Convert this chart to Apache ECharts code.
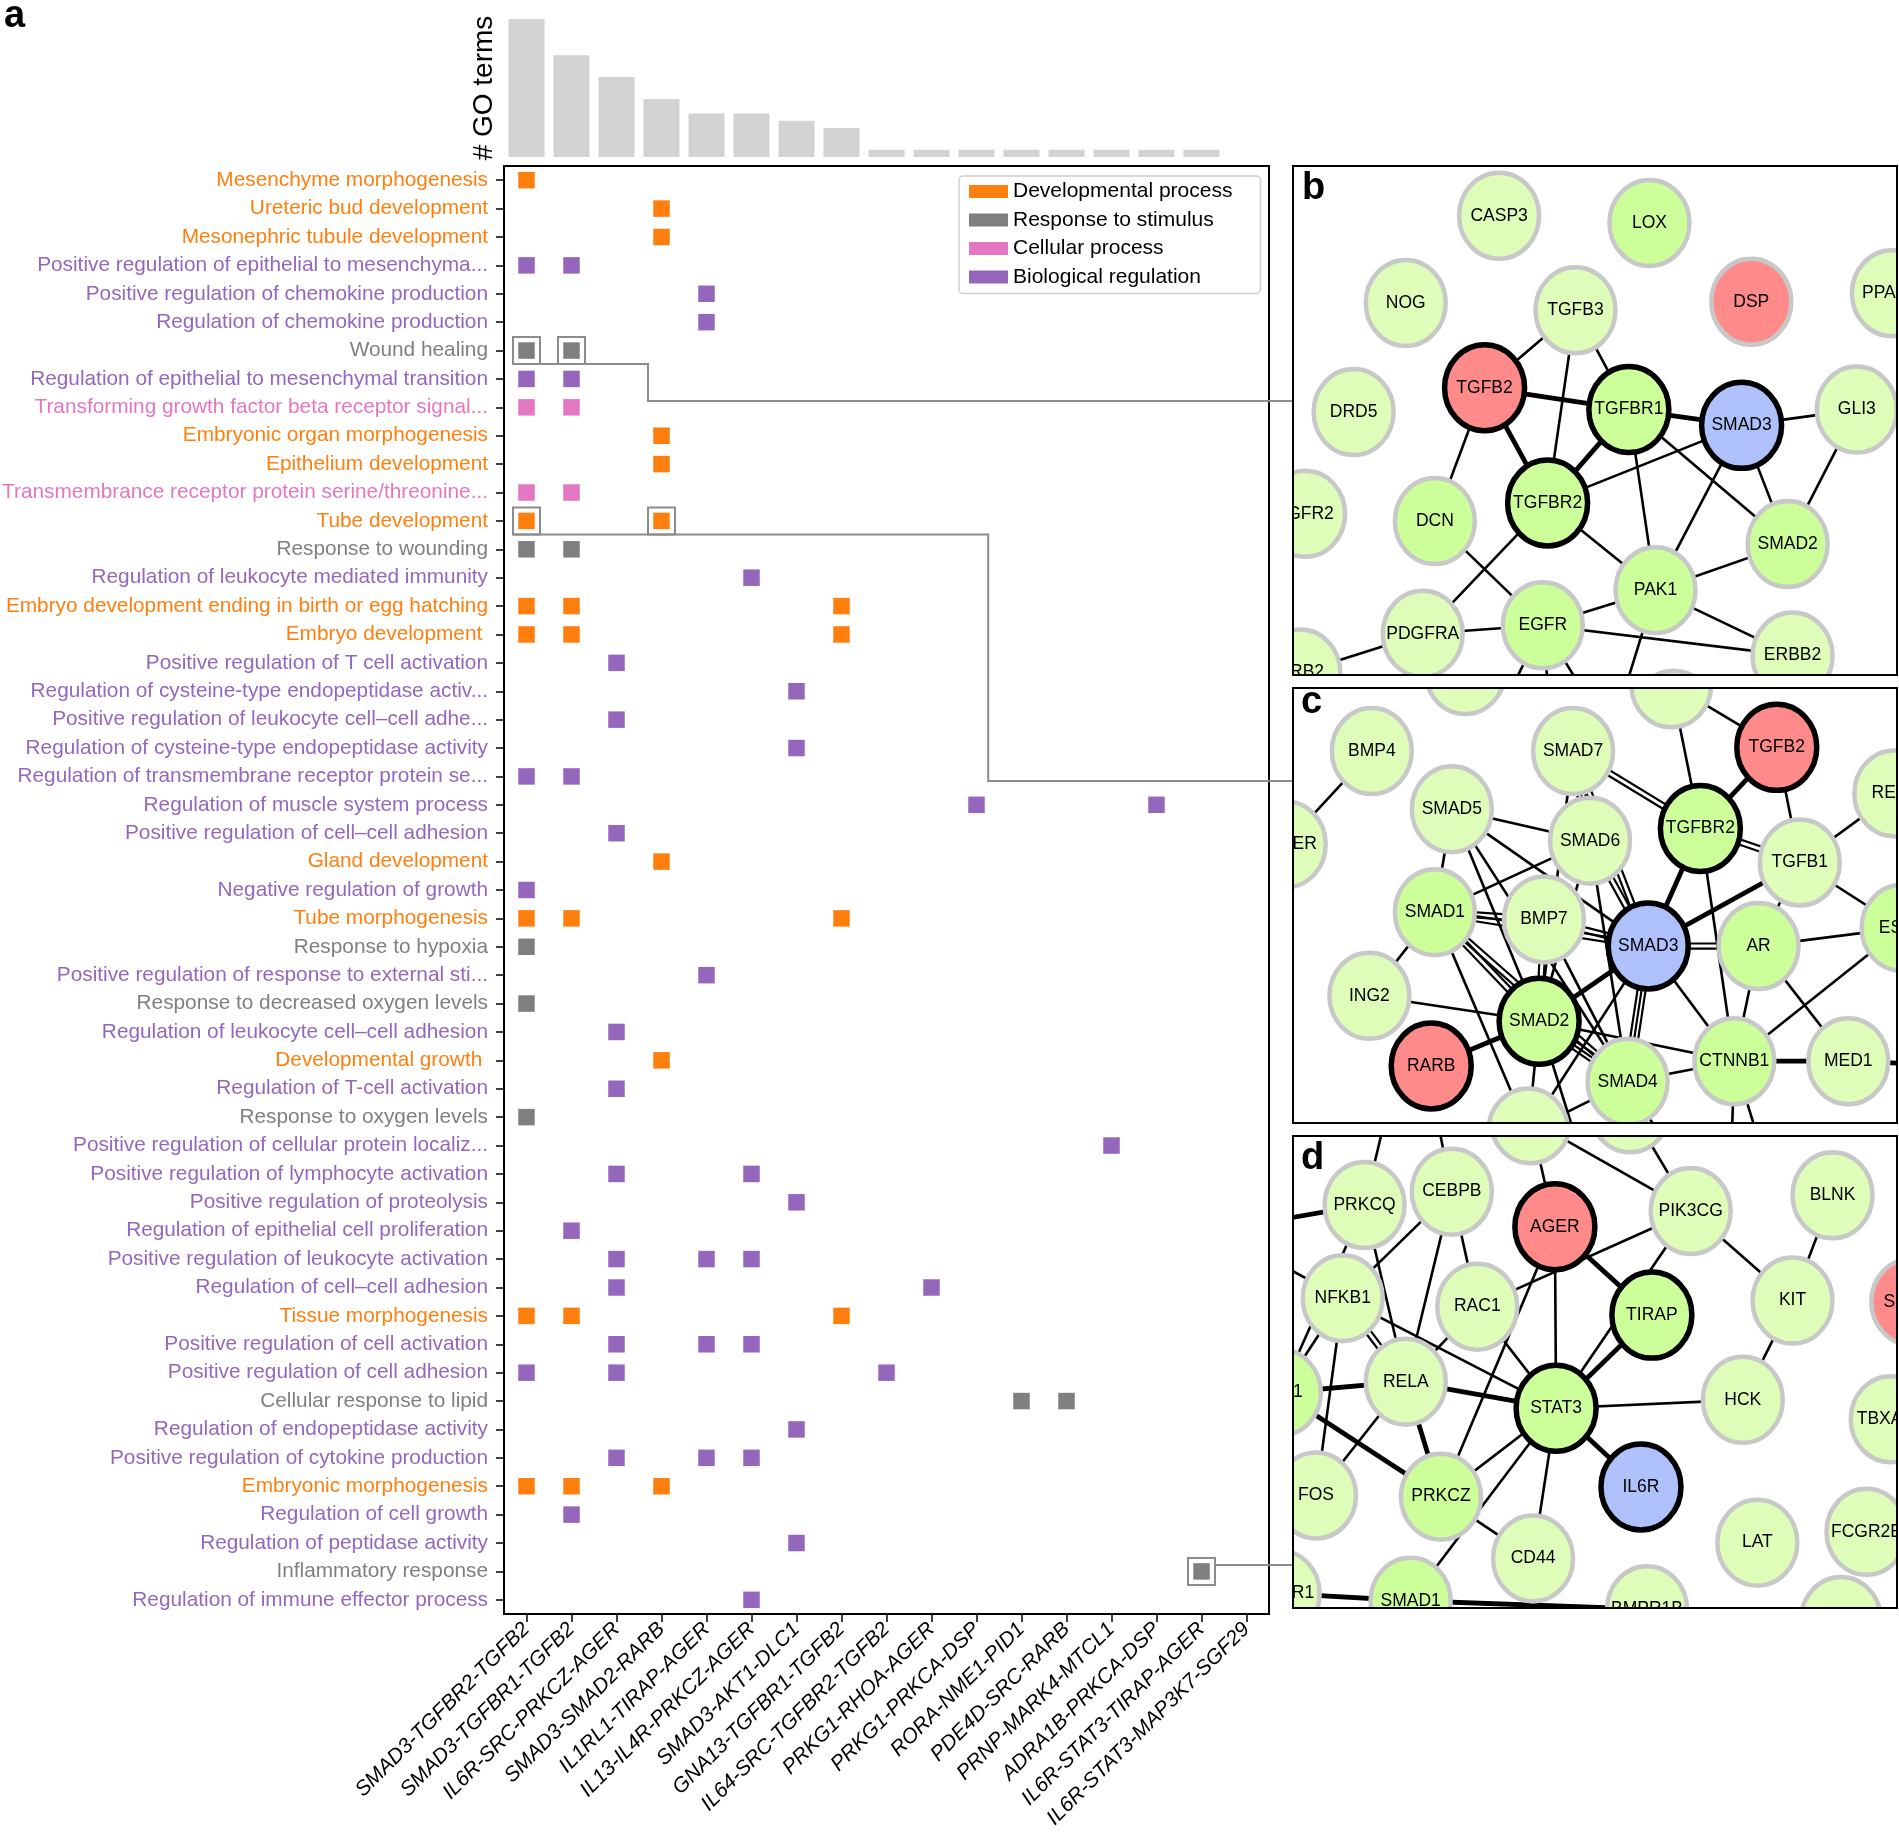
<!DOCTYPE html>
<html>
<head>
<meta charset="utf-8">
<script src="https://cdn.jsdelivr.net/npm/echarts@6/dist/echarts.min.js"></script>
<style>
html,body{margin:0;padding:0;background:#fff;}
#chart{width:1899px;height:1832px;}
</style>
</head>
<body>
<div id="chart"></div>
<script>
// ---------------- DATA ----------------
const combos = ['SMAD3-TGFBR2-TGFB2','SMAD3-TGFBR1-TGFB2','IL6R-SRC-PRKCZ-AGER','SMAD3-SMAD2-RARB',
  'IL1RL1-TIRAP-AGER','IL13-IL4R-PRKCZ-AGER','SMAD3-AKT1-DLC1','GNA13-TGFBR1-TGFB2','IL64-SRC-TGFBR2-TGFB2',
  'PRKG1-RHOA-AGER','PRKG1-PRKCA-DSP','RORA-NME1-PID1','PDE4D-SRC-RARB','PRNP-MARK4-MTCL1',
  'ADRA1B-PRKCA-DSP','IL6R-STAT3-TIRAP-AGER','IL6R-STAT3-MAP3K7-SGF29'];

const goCounts = [19,14,11,8,6,6,5,4,1,1,1,1,1,1,1,1,0];

const goTerms = ['Mesenchyme morphogenesis','Ureteric bud development','Mesonephric tubule development',
  'Positive regulation of epithelial to mesenchyma...','Positive regulation of chemokine production',
  'Regulation of chemokine production','Wound healing','Regulation of epithelial to mesenchymal transition',
  'Transforming growth factor beta receptor signal...','Embryonic organ morphogenesis','Epithelium development',
  'Transmembrance receptor protein serine/threonine...','Tube development','Response to wounding',
  'Regulation of leukocyte mediated immunity','Embryo development ending in birth or egg hatching',
  'Embryo development ','Positive regulation of T cell activation','Regulation of cysteine-type endopeptidase activ...',
  'Positive regulation of leukocyte cell\u2013cell adhe...','Regulation of cysteine-type endopeptidase activity',
  'Regulation of transmembrane receptor protein se...','Regulation of muscle system process',
  'Positive regulation of cell\u2013cell adhesion','Gland development','Negative regulation of growth',
  'Tube morphogenesis','Response to hypoxia','Positive regulation of response to external sti...',
  'Response to decreased oxygen levels','Regulation of leukocyte cell\u2013cell adhesion','Developmental growth ',
  'Regulation of T-cell activation','Response to oxygen levels','Positive regulation of cellular protein localiz...',
  'Positive regulation of lymphocyte activation','Positive regulation of proteolysis',
  'Regulation of epithelial cell proliferation','Positive regulation of leukocyte activation',
  'Regulation of cell\u2013cell adhesion','Tissue morphogenesis','Positive regulation of cell activation',
  'Positive regulation of cell adhesion','Cellular response to lipid','Regulation of endopeptidase activity',
  'Positive regulation of cytokine production','Embryonic morphogenesis','Regulation of cell growth',
  'Regulation of peptidase activity','Inflammatory response','Regulation of immune effector process'];

const termGroups = ['dev','dev','dev','bio','bio','bio','resp','bio','cell','dev','dev','cell','dev','resp',
  'bio','dev','dev','bio','bio','bio','bio','bio','bio','bio','dev','bio','dev','resp','bio','resp','bio',
  'dev','bio','resp','bio','bio','bio','bio','bio','bio','dev','bio','bio','resp','bio','bio','dev','bio',
  'bio','resp','bio'];

const termCombos = [[0],[3],[3],[0,1],[4],[4],[0,1],[0,1],[0,1],[3],[3],[0,1],[0,3],[0,1],[5],[0,1,7],
  [0,1,7],[2],[6],[2],[6],[0,1],[10,14],[2],[3],[0],[0,1,7],[0],[4],[0],[2],[3],[2],[0],[13],[2,5],[6],
  [1],[2,4,5],[2,9],[0,1,7],[2,4,5],[0,2,8],[11,12],[6],[2,4,5],[0,1,3],[1],[6],[15],[5]];

const groupOrder = ['dev','resp','cell','bio'];
const groupNames = {dev:'Developmental process', resp:'Response to stimulus', cell:'Cellular process', bio:'Biological regulation'};

// highlighted cells: [combo index, term index]
const highlighted = [[0,6],[1,6],[0,12],[3,12],[15,49]];

// network panels: [gene, x, y, role]  (layout units of each panel; '_' = unlabeled node)
const netB = [['CASP3',170,41,'L'],['LOX',294,47,'G'],['NOG',93,113,'L'],['TGFB3',233,119,'L'],
  ['DSP',378,112,'R'],['PPARG',494,105,'L'],['DRD5',50,203,'L'],['TGFB2',158,183,'RB'],
  ['TGFBR1',277,201,'GB'],['SMAD3',370,214,'B'],['GLI3',465,201,'L'],['FGFR2',10,287,'L'],
  ['DCN',117,293,'G'],['TGFBR2',210,278,'GB'],['SMAD2',408,312,'G'],['PAK1',299,350,'G'],
  ['PDGFRA',107,386,'L'],['EGFR',206,379,'G'],['ERBB2',412,404,'L'],['GRB2',6,418,'L'],
  ['_b0',314,452,'L'],['_b1',160,472,'L'],['_b2',214,474,'L'],['_b3',262,470,'L']];
const edgesB = [['TGFB3','TGFB2',1],['TGFB3','TGFBR2',1],['TGFB3','TGFBR1',1],['TGFB2','TGFBR1',2],
  ['TGFB2','TGFBR2',2],['TGFB2','DCN',1],['TGFBR1','SMAD3',2],['TGFBR1','TGFBR2',2],['TGFBR1','PAK1',1],
  ['TGFBR1','SMAD2',1],['TGFBR2','SMAD3',1],['TGFBR2','PAK1',1],['TGFBR2','PDGFRA',1],['SMAD3','GLI3',1],
  ['SMAD3','SMAD2',1],['SMAD3','PAK1',1],['GLI3','SMAD2',1],['SMAD2','PAK1',1],['PAK1','EGFR',1],
  ['PAK1','ERBB2',1],['PAK1','_b3',1],['DCN','EGFR',1],['PDGFRA','EGFR',1],['EGFR','ERBB2',1],
  ['PDGFRA','GRB2',1],['EGFR','_b1',1],['EGFR','_b2',1],['EGFR','_b3',1]];

const netC = [['_c1',142,-14,'L'],['TGFB3',312,-3,'L'],['BMP4',65,52,'L'],['SMAD7',231,52,'L'],
  ['TGFB2',399,49,'RB'],['RELA',496,87,'L'],['BMPER',-6,129,'L'],['SMAD5',131,100,'L'],
  ['SMAD6',245,126,'L'],['TGFBR2',336,116,'GB'],['TGFB1',418,144,'L'],['ESR1',502,198,'G'],
  ['SMAD1',117,185,'G'],['BMP7',207,191,'L'],['SMAD3',293,213,'B'],['AR',384,213,'G'],
  ['ING2',63,254,'L'],['SMAD2',203,275,'GB'],['RARB',114,312,'RB'],['SMAD4',276,325,'G'],
  ['CTNNB1',364,308,'G'],['MED1',458,308,'L'],['_c2',194,366,'L'],['_c3',565,312,'L'],
  ['_c4',250,425,'L'],['_c5',330,415,'L'],['_c6',400,425,'L'],['_c8',360,430,'L']];
const edgesC = [['BMP4','BMPER',1],['TGFB3','TGFB2',1],['TGFB3','TGFBR2',1],['TGFB2','TGFBR2',2],
  ['TGFB2','TGFB1',1],['SMAD7','TGFBR2',3],['SMAD7','SMAD6',4],['SMAD7','SMAD3',3],['SMAD7','SMAD2',1],
  ['SMAD5','SMAD6',1],['SMAD5','SMAD1',1],['SMAD5','SMAD3',1],['SMAD5','SMAD2',1],['SMAD5','SMAD4',1],
  ['SMAD6','SMAD1',1],['SMAD6','SMAD3',3],['SMAD6','SMAD2',1],['SMAD6','SMAD4',1],['TGFBR2','SMAD3',2],
  ['TGFBR2','TGFB1',3],['TGFBR2','CTNNB1',1],['TGFB1','SMAD3',2],['TGFB1','AR',1],['TGFB1','RELA',1],
  ['TGFB1','ESR1',1],['SMAD1','BMP7',3],['SMAD1','SMAD3',3],['SMAD1','SMAD2',3],['SMAD1','SMAD4',3],
  ['SMAD1','ING2',1],['SMAD1','_c2',1],['BMP7','SMAD3',3],['BMP7','SMAD2',3],['BMP7','SMAD4',1],
  ['SMAD3','AR',3],['SMAD3','SMAD2',2],['SMAD3','SMAD4',4],['SMAD3','CTNNB1',1],['SMAD3','_c2',1],
  ['AR','ESR1',1],['AR','CTNNB1',1],['AR','MED1',1],['ESR1','CTNNB1',1],['ING2','SMAD2',1],
  ['SMAD2','RARB',2],['SMAD2','SMAD4',4],['SMAD2','CTNNB1',1],['SMAD2','_c2',1],['SMAD2','_c4',1],
  ['SMAD4','CTNNB1',1],['SMAD4','_c5',1],['SMAD4','_c2',1],['CTNNB1','MED1',2],['MED1','_c3',2],
  ['CTNNB1','_c6',1],['CTNNB1','_c8',1]];

const netD = [['_d1',196,-13,'L'],['_d2',278,-22,'L'],['PRKCQ',59,57,'L'],['CEBPB',131,46,'L'],
  ['AGER',216,75,'RB'],['PIK3CG',328,62,'L'],['BLNK',445,49,'L'],['NFKB1',41,134,'L'],
  ['RAC1',152,141,'L'],['TIRAP',296,148,'GB'],['KIT',412,136,'L'],['SGF29',510,137,'R'],
  ['AKT1',-10,212,'G'],['RELA',93,203,'L'],['STAT3',217,225,'GB'],['HCK',371,218,'L'],
  ['TBXA2R',493,234,'L'],['FOS',19,297,'L'],['PRKCZ',122,298,'G'],['IL6R',287,290,'B'],
  ['CD44',198,349,'L'],['LAT',383,336,'L'],['FCGR2B',473,327,'L'],['TGFBR1',-11,378,'L'],
  ['SMAD1',97,384,'G'],['BMPR1B',292,391,'L'],['_d3',452,400,'L'],['_d4',84,-48,'L'],
  ['_d5',112,-48,'L'],['_d6',-62,78,'L'],['_d7',-62,160,'L'],['_d8',-62,300,'L'],['_d9',-62,430,'L']];
const edgesD = [['PRKCQ','_d4',1],['CEBPB','_d5',1],['PRKCQ','_d6',2],['PRKCQ','AKT1',1],['PRKCQ','RELA',1],
  ['CEBPB','NFKB1',1],['CEBPB','RELA',1],['CEBPB','RAC1',1],['AGER','_d1',1],['_d1','PIK3CG',1],
  ['_d2','PIK3CG',1],['AGER','TIRAP',2],['AGER','STAT3',1],['AGER','PRKCZ',1],['PIK3CG','RAC1',1],
  ['PIK3CG','STAT3',1],['PIK3CG','KIT',1],['BLNK','KIT',1],['KIT','HCK',1],['NFKB1','RELA',3],
  ['NFKB1','STAT3',1],['NFKB1','FOS',1],['NFKB1','AKT1',1],['NFKB1','_d6',1],['RAC1','RELA',1],
  ['RAC1','STAT3',1],['TIRAP','STAT3',2],['RELA','STAT3',2],['RELA','PRKCZ',2],['RELA','AKT1',2],
  ['RELA','FOS',1],['AKT1','PRKCZ',2],['AKT1','_d7',1],['AKT1','_d8',1],['STAT3','HCK',1],
  ['STAT3','IL6R',2],['STAT3','PRKCZ',1],['STAT3','CD44',1],['STAT3','SMAD1',1],['PRKCZ','CD44',1],
  ['TGFBR1','SMAD1',2],['SMAD1','BMPR1B',2],['TGFBR1','_d9',1]];

// ---------------- STYLE / LAYOUT ----------------
const groupColors = {dev:'#ff7f0e', resp:'#7f7f7f', cell:'#e377c2', bio:'#9467bd'};
const roleStyle = {
  L:{fill:'#defdb8', stroke:'#c8c8c8', lw:4.5},
  G:{fill:'#ccff99', stroke:'#c8c8c8', lw:4.5},
  GB:{fill:'#ccff99', stroke:'#000', lw:5.5},
  R:{fill:'#ff8a8a', stroke:'#c8c8c8', lw:4.5},
  RB:{fill:'#ff8a8a', stroke:'#000', lw:5.5},
  B:{fill:'#aec1fa', stroke:'#000', lw:5.5}
};
const LAY = {
  bar:{left:504, top:19, width:765, height:138},
  main:{left:504, top:166, width:765, height:1448},
  b:{left:1293, top:166, width:605, height:509, ux:499, uy:420},
  c:{left:1293, top:688, width:605, height:435, ux:499, uy:359},
  d:{left:1293, top:1136, width:605, height:472, ux:499, uy:390}
};
const SANS = '"Liberation Sans", Arial, Helvetica, sans-serif';
const NARROW = '"Liberation Sans Narrow","Arial Narrow","Nimbus Sans Narrow","Liberation Sans",Arial,sans-serif';

// fit row label font so the longest label spans the reference width
const cv = document.createElement('canvas').getContext('2d');
cv.font = '100px ' + NARROW;
const wLong = cv.measureText('Transmembrance receptor protein serine/threonine...').width;
const rowFont = Math.min(24, 100 * 486 / wLong);

const chart = echarts.init(document.getElementById('chart'), null, {renderer:'canvas'});

function grid(l){ return {left:l.left, top:l.top, width:l.width, height:l.height, containLabel:false, outerBoundsMode:'none', show:false}; }

function nodeSeries(nodes, idx){
  return {
    type:'custom', coordinateSystem:'cartesian2d', xAxisIndex:idx, yAxisIndex:idx, clip:true, silent:true, z:5,
    data: nodes.map(n => [n[1], n[2]]),
    encode:{x:0, y:1},
    renderItem: function(params, api){
      const n = nodes[params.dataIndex];
      const p = api.coord([api.value(0), api.value(1)]);
      const st = roleStyle[n[3]];
      const children = [{type:'ellipse', shape:{cx:p[0], cy:p[1], rx:40, ry:43},
        style:{fill:st.fill, stroke:st.stroke, lineWidth:st.lw}}];
      if (n[0][0] !== '_') {
        children.push({type:'text', x:p[0], y:p[1],
          style:{text:n[0], fill:'#000', fontSize:17.5, fontFamily:SANS, align:'center', verticalAlign:'middle'}});
      }
      return {type:'group', children:children};
    }
  };
}
function edgeSeries(nodes, edges, idx){
  const pos = {}; nodes.forEach(n => { pos[n[0]] = n; });
  return {
    type:'custom', coordinateSystem:'cartesian2d', xAxisIndex:idx, yAxisIndex:idx, clip:true, silent:true, z:4,
    data: edges.map(e => [pos[e[0]][1], pos[e[0]][2], pos[e[1]][1], pos[e[1]][2], e[2]]),
    encode:{x:[0,2], y:[1,3]},
    renderItem: function(params, api){
      const p1 = api.coord([api.value(0), api.value(1)]);
      const p2 = api.coord([api.value(2), api.value(3)]);
      const k = api.value(4);
      const dx = p2[0]-p1[0], dy = p2[1]-p1[1], len = Math.hypot(dx,dy) || 1;
      const nx = -dy/len, ny = dx/len;
      let offs = [0], lw = 2.6;
      if (k === 2) { lw = 4.8; }
      else if (k === 3) { offs = [-2.6, 2.6]; lw = 2.2; }
      else if (k === 4) { offs = [-4, 0, 4]; lw = 2.2; }
      return {type:'group', children: offs.map(o => ({type:'line',
        shape:{x1:p1[0]+nx*o, y1:p1[1]+ny*o, x2:p2[0]+nx*o, y2:p2[1]+ny*o},
        style:{stroke:'#000', lineWidth:lw}}))};
    }
  };
}

const groupSeries = groupOrder.map(g => {
  const pts = [];
  termGroups.forEach((tg, r) => { if (tg === g) termCombos[r].forEach(c => pts.push([combos[c], goTerms[r]])); });
  return {name:groupNames[g], type:'scatter', xAxisIndex:1, yAxisIndex:1, symbol:'rect', symbolSize:16.5,
    itemStyle:{color:groupColors[g], opacity:1}, data:pts, silent:true, z:3};
});

function panelAxes(l, idx){
  return [{type:'value', gridIndex:idx, min:0, max:l.ux, show:false},
          {type:'value', gridIndex:idx, min:0, max:l.uy, inverse:true, show:false}];
}
const pb = panelAxes(LAY.b,2), pc = panelAxes(LAY.c,3), pd = panelAxes(LAY.d,4);

const option = {
  animation:false,
  backgroundColor:'#fff',
  grid:[grid(LAY.bar), Object.assign(grid(LAY.main), {show:true, borderColor:'#000', borderWidth:2}),
        grid(LAY.b), grid(LAY.c), grid(LAY.d)],
  xAxis:[
    {type:'category', gridIndex:0, data:combos, show:false},
    {type:'category', gridIndex:1, data:combos, position:'bottom',
      axisLine:{show:true, lineStyle:{color:'#000', width:2}},
      axisTick:{show:true, alignWithLabel:true, interval:0, length:8, lineStyle:{color:'#000', width:1.5}},
      axisLabel:{interval:0, rotate:45, margin:12, color:'#000', fontSize:21, fontStyle:'italic', fontFamily:SANS},
      splitLine:{show:false}},
    pb[0], pc[0], pd[0]
  ],
  yAxis:[
    {type:'value', gridIndex:0, min:0, max:19, axisLine:{show:false}, axisTick:{show:false},
      axisLabel:{show:false}, splitLine:{show:false},
      name:'# GO terms', nameLocation:'middle', nameRotate:90, nameGap:6,
      nameTextStyle:{color:'#000', fontSize:28, fontFamily:SANS}},
    {type:'category', gridIndex:1, data:goTerms, inverse:true,
      axisLine:{show:true, lineStyle:{color:'#000', width:2}},
      axisTick:{show:true, alignWithLabel:true, interval:0, length:8, lineStyle:{color:'#000', width:1.5}},
      axisLabel:{interval:0, margin:16, fontSize:rowFont, fontFamily:NARROW,
        color:function(v){ const i = goTerms.indexOf(v); return groupColors[termGroups[i]] || '#000'; }},
      splitLine:{show:false}},
    pb[1], pc[1], pd[1]
  ],
  legend:{
    data:groupOrder.map(g => groupNames[g]), orient:'vertical', left:959, top:176,
    icon:'rect', itemWidth:39, itemHeight:13, itemGap:7.5,
    backgroundColor:'#fff', borderColor:'#cfcfcf', borderWidth:1.5, borderRadius:4,
    padding:[5,28,6,10], selectedMode:false,
    textStyle:{color:'#000', fontSize:21, fontFamily:SANS}
  },
  series:[
    {type:'bar', xAxisIndex:0, yAxisIndex:0, data:goCounts, barWidth:'80%', itemStyle:{color:'#d3d3d3'}, silent:true},
    ...groupSeries,
    {type:'scatter', xAxisIndex:1, yAxisIndex:1, symbol:'rect', symbolSize:27, silent:true, z:2,
      itemStyle:{color:'rgba(0,0,0,0)', borderColor:'#8c8c8c', borderWidth:2, opacity:1},
      data: highlighted.map(h => [combos[h[0]], goTerms[h[1]]])},
    edgeSeries(netB, edgesB, 2), nodeSeries(netB, 2),
    edgeSeries(netC, edgesC, 3), nodeSeries(netC, 3),
    edgeSeries(netD, edgesD, 4), nodeSeries(netD, 4)
  ]
};
chart.setOption(option);

// ---------- annotations: connectors, panel frames, panel letters ----------
function cellPx(c, r){ return chart.convertToPixel({gridIndex:1}, [combos[c], goTerms[r]]); }
function lerp(a, b, t){ return a + (b - a) * t; }
const HB = 13.5;
const lineStyle = {stroke:'#8c8c8c', lineWidth:2, fill:null};

const w0 = cellPx(0,6), w2 = cellPx(2,6), w3 = cellPx(3,6), r7 = cellPx(0,7), r8 = cellPx(0,8);
const conn1 = [[w0[0]-HB, w0[1]+HB], [lerp(w2[0], w3[0], 0.7), w0[1]+HB],
  [lerp(w2[0], w3[0], 0.7), lerp(r7[1], r8[1], 0.78)], [LAY.b.left, lerp(r7[1], r8[1], 0.78)]];
const t0 = cellPx(0,12), t10 = cellPx(10,12), t11 = cellPx(11,12), r21 = cellPx(0,21), r22 = cellPx(0,22);
const conn2 = [[t0[0]-HB, t0[1]+HB], [lerp(t10[0], t11[0], 0.26), t0[1]+HB],
  [lerp(t10[0], t11[0], 0.26), lerp(r21[1], r22[1], 0.16)], [LAY.c.left, lerp(r21[1], r22[1], 0.16)]];
const i15 = cellPx(15,49), i15b = cellPx(15,48);
const yi = i15[1] - 0.23 * (i15[1] - i15b[1]);
const conn3 = [[i15[0]+HB, yi], [LAY.d.left, yi]];

const graphics = [
  {type:'polyline', shape:{points:conn1}, style:lineStyle, z:50, silent:true},
  {type:'polyline', shape:{points:conn2}, style:lineStyle, z:50, silent:true},
  {type:'polyline', shape:{points:conn3}, style:lineStyle, z:50, silent:true}
];
['b','c','d'].forEach(k => {
  const l = LAY[k];
  graphics.push({type:'rect', shape:{x:l.left, y:l.top, width:l.width-1, height:l.height},
    style:{fill:null, stroke:'#000', lineWidth:2}, z:60, silent:true});
});
const letters = [['a',4,-2],['b',1302,170],['c',1301,684],['d',1301,1140]];
letters.forEach(t => graphics.push({type:'text', left:t[1], top:t[2], z:70, silent:true,
  style:{text:t[0], fill:'#000', font:'bold 38px ' + SANS}}));
chart.setOption({graphic:graphics});
</script>
</body>
</html>
